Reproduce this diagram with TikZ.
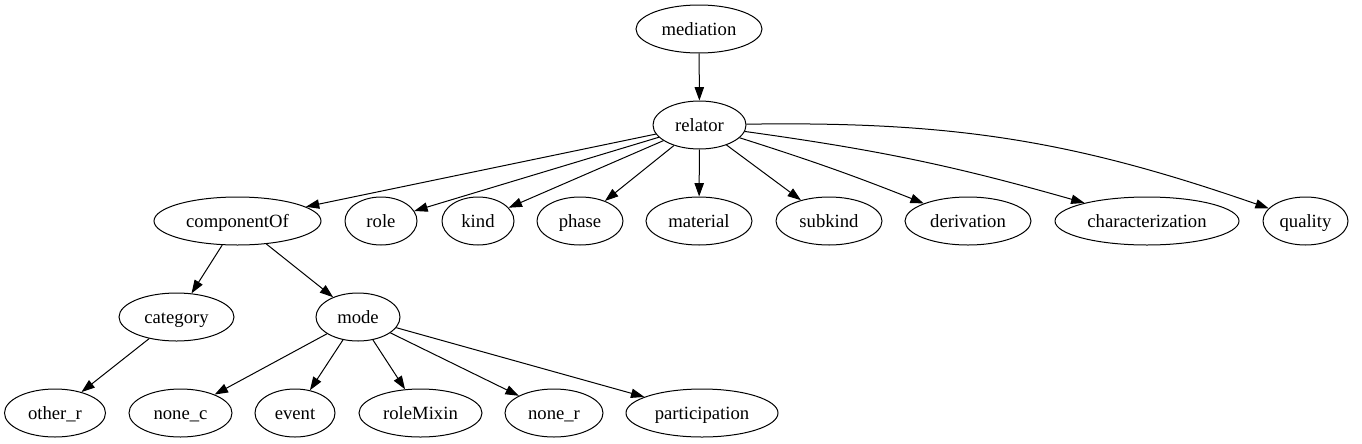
\documentclass[tikz,border=0pt]{standalone}
\usepackage{fontspec}
\setmainfont{Liberation Serif}
\usetikzlibrary{shapes.geometric,arrows.meta}
\begin{document}
\begin{tikzpicture}[x=0.75pt,y=-0.75pt,
  nd/.style={ellipse,draw,line width=0.75pt,minimum height=36pt,inner sep=0pt,text height=9.6pt,text depth=0pt,font=\fontsize{14pt}{16pt}\selectfont},
  ed/.style={line width=0.75pt,-{Triangle[length=10pt,width=7pt]}}]
\useasboundingbox (0,0) rectangle (1362,443);
\node[nd,minimum width=94.5pt] (mediation) at (699,29) {mediation};
\node[nd,minimum width=69.75pt] (relator) at (699.5,125) {relator};
\node[nd,minimum width=125.25pt] (componentOf) at (237.5,221) {componentOf};
\node[nd,minimum width=54pt] (role) at (381,221) {role};
\node[nd,minimum width=54pt] (kind) at (478,221) {kind};
\node[nd,minimum width=64.5pt] (phase) at (580,221) {phase};
\node[nd,minimum width=79.5pt] (material) at (699,221) {material};
\node[nd,minimum width=79.5pt] (subkind) at (829,221) {subkind};
\node[nd,minimum width=94.5pt] (derivation) at (968,221) {derivation};
\node[nd,minimum width=138pt] (characterization) at (1147,221) {characterization};
\node[nd,minimum width=63.75pt] (quality) at (1305.5,221) {quality};
\node[nd,minimum width=86.25pt] (category) at (176.5,317) {category};
\node[nd,minimum width=63pt] (mode) at (358,317) {mode};
\node[nd,minimum width=75.75pt] (other_r) at (55,413) {other\_r};
\node[nd,minimum width=77.25pt] (none_c) at (180.5,413) {none\_c};
\node[nd,minimum width=60pt] (event) at (295,413) {event};
\node[nd,minimum width=92.25pt] (roleMixin) at (420.5,413) {roleMixin};
\node[nd,minimum width=73.5pt] (none_r) at (554,413) {none\_r};
\node[nd,minimum width=114pt] (participation) at (702,413) {participation};
\draw[ed] (mediation) -- (relator);
\draw[ed] (relator) -- (componentOf);
\draw[ed] (relator) -- (role);
\draw[ed] (relator) -- (kind);
\draw[ed] (relator) -- (phase);
\draw[ed] (relator) -- (material);
\draw[ed] (relator) -- (subkind);
\draw[ed] (relator) to[bend left=2] (derivation);
\draw[ed] (relator) to[bend left=4] (characterization);
\draw[ed] (relator) to[bend left=10] (quality);
\draw[ed] (componentOf) -- (category);
\draw[ed] (componentOf) -- (mode);
\draw[ed] (category) -- (other_r);
\draw[ed] (mode) -- (none_c);
\draw[ed] (mode) -- (event);
\draw[ed] (mode) -- (roleMixin);
\draw[ed] (mode) -- (none_r);
\draw[ed] (mode) -- (participation);
\end{tikzpicture}
\end{document}
